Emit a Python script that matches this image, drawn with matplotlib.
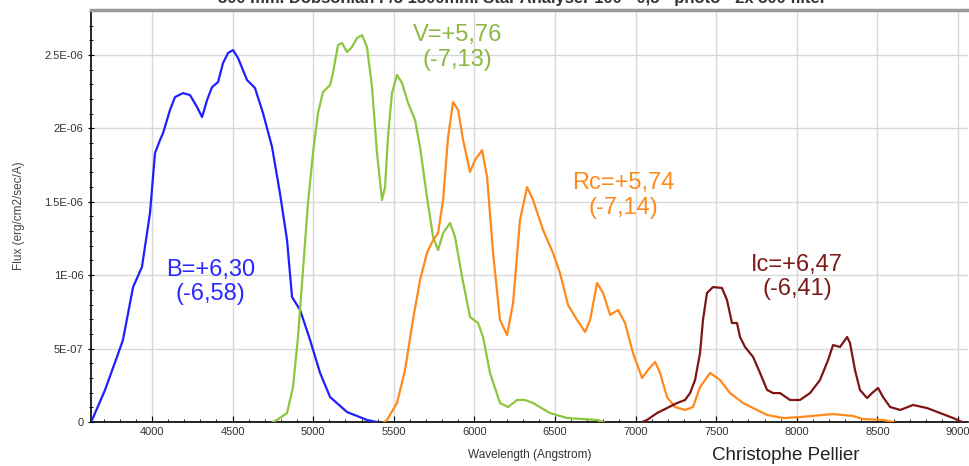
import matplotlib
matplotlib.use("Agg")
import matplotlib.pyplot as plt
from matplotlib.ticker import MultipleLocator, FuncFormatter

plt.rcParams['font.family'] = ['Liberation Sans', 'DejaVu Sans']

# wavelength (Angstrom) and flux (1e-6 erg/cm2/sec/A) for each filter band
b_wave = [3622, 3634, 3709, 3783, 3820, 3883, 3938, 3988, 4019, 4050, 4069, 4112, 4143,
          4193, 4236, 4280, 4311, 4342, 4373, 4410, 4441, 4472, 4503, 4534, 4590, 4639,
          4689, 4745, 4794, 4838, 4869, 4919, 4981, 5043, 5105, 5210, 5334, 5396]
b_flux = [0.0, 0.027, 0.218, 0.443, 0.558, 0.919, 1.056, 1.423, 1.832, 1.920, 1.968, 2.125,
          2.213, 2.240, 2.227, 2.145, 2.077, 2.193, 2.281, 2.315, 2.445, 2.513, 2.533, 2.479,
          2.329, 2.275, 2.104, 1.873, 1.559, 1.239, 0.851, 0.763, 0.558, 0.334, 0.170, 0.068,
          0.014, 0.0]

v_wave = [4750, 4776, 4838, 4875, 4906, 4937, 4968, 4999, 5030, 5061, 5105, 5123, 5154,
          5179, 5210, 5241, 5272, 5303, 5334, 5365, 5396, 5427, 5446, 5464, 5489, 5520,
          5551, 5589, 5632, 5663, 5706, 5744, 5775, 5806, 5849, 5880, 5924, 5973, 6023,
          6054, 6097, 6159, 6209, 6265, 6314, 6364, 6469, 6575, 6761, 6800]
v_flux = [0.0, 0.014, 0.061, 0.238, 0.579, 1.035, 1.491, 1.832, 2.104, 2.247, 2.295, 2.377,
          2.567, 2.581, 2.520, 2.554, 2.615, 2.635, 2.554, 2.281, 1.832, 1.512, 1.600, 1.941,
          2.240, 2.363, 2.309, 2.172, 2.057, 1.873, 1.532, 1.260, 1.171, 1.287, 1.355, 1.260,
          0.987, 0.715, 0.674, 0.579, 0.334, 0.129, 0.102, 0.150, 0.150, 0.129, 0.061, 0.027,
          0.014, 0.0]

rc_wave = [5440, 5458, 5520, 5570, 5619, 5663, 5706, 5744, 5775, 5806, 5837, 5868, 5899,
           5930, 5973, 6004, 6048, 6079, 6116, 6159, 6203, 6240, 6283, 6327, 6364, 6426,
           6488, 6531, 6581, 6637, 6687, 6718, 6761, 6798, 6842, 6891, 6935, 6984, 7040,
           7077, 7121, 7152, 7195, 7245, 7307, 7356, 7400, 7462, 7524, 7586, 7667, 7816,
           7915, 8020, 8225, 8349, 8411, 8535, 8600]
rc_flux = [0.0, 0.014, 0.129, 0.354, 0.695, 0.967, 1.151, 1.239, 1.287, 1.512, 1.941, 2.179,
           2.125, 1.920, 1.703, 1.784, 1.852, 1.668, 1.151, 0.695, 0.592, 0.810, 1.376, 1.600,
           1.512, 1.308, 1.151, 1.015, 0.797, 0.695, 0.613, 0.695, 0.947, 0.879, 0.729, 0.763,
           0.674, 0.470, 0.300, 0.354, 0.409, 0.334, 0.170, 0.102, 0.082, 0.102, 0.238, 0.334,
           0.286, 0.197, 0.129, 0.048, 0.027, 0.034, 0.054, 0.041, 0.020, 0.014, 0.0]

ic_wave = [7040, 7071, 7133, 7195, 7257, 7307, 7338, 7369, 7400, 7418, 7443, 7480, 7536,
           7567, 7598, 7629, 7648, 7679, 7729, 7772, 7816, 7853, 7896, 7958, 8020, 8082,
           8144, 8194, 8225, 8268, 8312, 8330, 8361, 8392, 8436, 8467, 8504, 8535, 8579,
           8641, 8721, 8808, 8889, 8970, 9025]
ic_flux = [0.0, 0.014, 0.061, 0.095, 0.129, 0.150, 0.197, 0.286, 0.470, 0.695, 0.879, 0.919,
           0.913, 0.831, 0.674, 0.674, 0.579, 0.511, 0.443, 0.334, 0.218, 0.197, 0.197, 0.150,
           0.150, 0.197, 0.286, 0.422, 0.524, 0.511, 0.579, 0.538, 0.354, 0.218, 0.163, 0.197,
           0.232, 0.170, 0.102, 0.082, 0.116, 0.095, 0.061, 0.027, 0.0]

bands = [
    (b_wave, b_flux, '#1f1fff', "B=+6,30\n(-6,58)", 4363, 0.953),
    (v_wave, v_flux, '#8cc63e', "V=+5,76\n(-7,13)", 5895, 2.55),
    (rc_wave, rc_flux, '#ff8a1c', "Rc=+5,74\n(-7,14)", 6922, 1.542),
    (ic_wave, ic_flux, '#7d1515', "Ic=+6,47\n(-6,41)", 8002, 0.987),
]
text_colors = ['#2828ff', '#8ab840', '#ff8a1c', '#7d1a1a']

fig = plt.figure(figsize=(9.7, 4.66), dpi=100)
ax = fig.add_axes([91 / 970, 44 / 466, 877 / 970, 412 / 466])

for (w, f, col, label, tx, ty), tcol in zip(bands, text_colors):
    ax.plot(w, [v * 1e-6 for v in f], color=col, lw=1.6, zorder=3,
            solid_joinstyle='round')
    ax.text(tx, ty * 1e-6, label, color=tcol, fontsize=17, ha='center', va='center',
            multialignment='center', linespacing=1.15, zorder=4)

ax.set_xlim(3622, 9062)
ax.set_ylim(0, 2.806e-6)
ax.xaxis.set_major_locator(MultipleLocator(500))
ax.xaxis.set_minor_locator(MultipleLocator(100))
ax.yaxis.set_major_locator(MultipleLocator(5e-7))
ax.yaxis.set_minor_locator(MultipleLocator(1e-7))

y_labels = {0: "0", 1: "5E-07", 2: "1E-06", 3: "1.5E-06", 4: "2E-06", 5: "2.5E-06"}
ax.yaxis.set_major_formatter(FuncFormatter(lambda v, p: y_labels.get(int(round(v / 5e-7)), "")))
ax.xaxis.set_major_formatter(FuncFormatter(lambda v, p: "%d" % v if v >= 4000 else ""))

ax.grid(True, which='major', color='#d8d8d8', lw=1.0, zorder=0)
ax.tick_params(axis='both', which='major', labelsize=8, labelcolor='#333333', length=4, width=0.8)
ax.tick_params(axis='both', which='minor', length=2.5, width=0.6)
ax.tick_params(axis='x', which='both', direction='in')
ax.tick_params(axis='y', which='both', direction='inout')

ax.spines['right'].set_visible(False)
ax.spines['top'].set_color('#9a9a9a')
ax.spines['top'].set_linewidth(2.5)
ax.spines['left'].set_linewidth(1.2)
ax.spines['bottom'].set_linewidth(1.2)

ax.set_ylabel("Flux (erg/cm2/sec/A)", fontsize=8.5, color='#444444', labelpad=14)
ax.set_xlabel("Wavelength (Angstrom)", fontsize=8.5, color='#333333', labelpad=9)

fig.text(786 / 970, 1 - 456 / 466, "Christophe Pellier", fontsize=13.5, color='#222222',
         ha='center', va='center')
fig.text(522 / 970, 1.004,
         "300 mm. Dobsonian F/5 1500mm. Star Analyser 100 - 0,5 - photo - 2x 300 filter",
         fontsize=12, color='#333333', ha='center', va='center', fontweight='bold')

fig.savefig("out.png", dpi=100)
